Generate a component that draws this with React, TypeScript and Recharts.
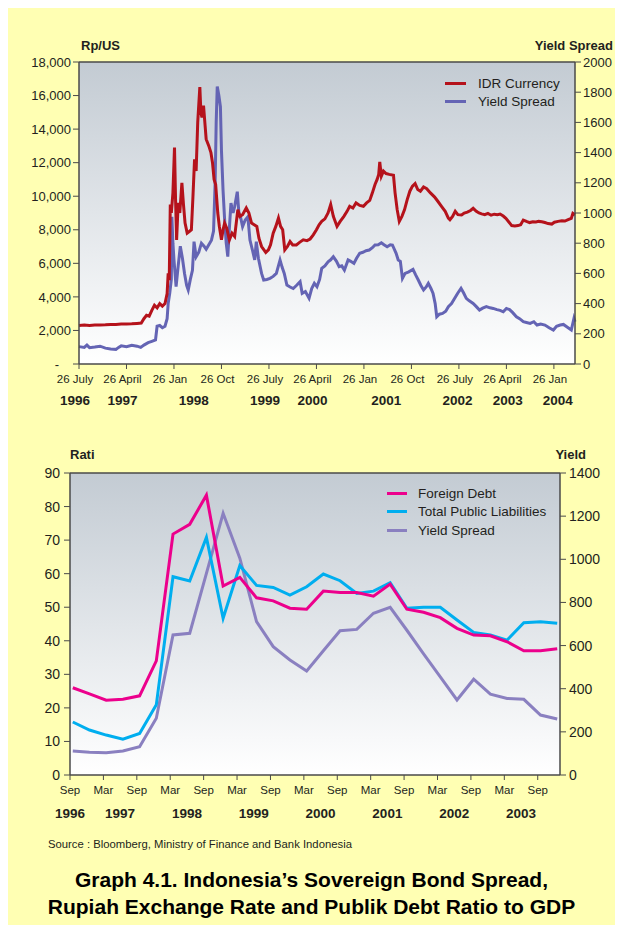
import React from 'react';
import { LineChart, Line, XAxis, YAxis, CartesianGrid, Legend, ReferenceLine } from 'recharts';

const FONT = '"Liberation Sans", Arial, Helvetica, sans-serif';
const INK = '#231f20';
const AXIS = '#4a4a4a';
const PAPER = '#ffffb3';

// ---- top chart: months since 26 July 1996 ----
const topTicks = [0, 9, 18, 27, 36, 45, 54, 63, 72, 81, 90];
const topTickLabels = ['26 July', '26 April', '26 Jan', '26 Oct', '26 July', '26 April', '26 Jan', '26 Oct', '26 July', '26 April', '26 Jan'];
const topYearPos = [0, 9, 22.5, 36, 45, 59, 72.5, 82, 91.5];
const topYears = ['1996', '1997', '1998', '1999', '2000', '2001', '2002', '2003', '2004'];

// [month, Rp per US$]
const idrCurrency: [number, number][] = [
  [0, 2300], [1, 2330], [2, 2300], [3, 2320], [4, 2330], [5, 2340], [6, 2360], [7, 2350], [8, 2380], [9, 2390],
  [10, 2400], [11, 2420], [11.8, 2440], [12.3, 2700], [12.8, 2900], [13.3, 2850], [13.8, 3200], [14.3, 3500],
  [14.8, 3350], [15.3, 3600], [15.8, 3450], [16.3, 3600], [16.7, 4200], [16.9, 5400], [17.1, 5000], [17.3, 9500],
  [17.5, 9000], [17.8, 10200], [18.1, 12900], [18.3, 9800], [18.5, 7400], [18.8, 9600], [19.1, 9000], [19.5, 10800],
  [19.8, 9500], [20.1, 8400], [20.5, 7800], [20.9, 7900], [21.3, 8000], [21.6, 10000], [21.9, 12200], [22.2, 11500],
  [22.5, 14400], [22.9, 16500], [23.1, 15000], [23.3, 14700], [23.6, 15400], [23.9, 14200], [24.1, 13400],
  [24.6, 13000], [25.0, 12600], [25.3, 12000], [25.6, 11000], [25.9, 10700], [26.3, 9000], [26.6, 8200],
  [27.0, 7400], [27.3, 8000], [27.6, 8400], [28.0, 8100], [28.5, 7400], [29.0, 7800], [29.5, 7600], [30.1, 9200],
  [30.5, 8800], [31.0, 8900], [31.7, 9300], [32.2, 9000], [32.7, 8400], [33.2, 8300], [33.7, 8200], [34.1, 7500],
  [34.6, 7000], [35.4, 6650], [35.9, 6800], [36.3, 7100], [36.8, 7800], [37.3, 8200], [37.8, 8700], [38.2, 8200],
  [38.6, 8000], [39.0, 6800], [39.5, 7000], [40.0, 7300], [40.5, 7100], [41.2, 7100], [41.8, 7250], [42.5, 7400],
  [43.2, 7350], [43.8, 7450], [44.4, 7700], [45.0, 8000], [45.5, 8300], [46.0, 8500], [46.6, 8650], [47.2, 9000],
  [47.7, 9500], [48.2, 8800], [48.9, 8200], [49.5, 8500], [50.2, 8800], [50.8, 9100], [51.3, 9400], [51.9, 9300],
  [52.5, 9600], [53.2, 9450], [53.9, 9400], [54.5, 9600], [55.1, 9750], [55.6, 10200], [56.1, 10700], [56.5, 11000],
  [56.8, 11300], [57.0, 12050], [57.3, 11200], [57.7, 11500], [58.2, 11350], [58.8, 11300], [59.6, 11250],
  [59.9, 10200], [60.3, 9200], [60.7, 8500], [61.2, 8800], [61.7, 9200], [62.2, 9800], [62.7, 10300], [63.2, 10600],
  [63.7, 10750], [64.2, 10400], [64.7, 10300], [65.3, 10550], [65.9, 10450], [66.6, 10200], [67.4, 9950],
  [68.0, 9700], [68.7, 9400], [69.4, 9100], [70.0, 8700], [70.3, 8600], [70.8, 8800], [71.3, 9100], [71.8, 8900],
  [72.5, 8880], [73.0, 9000], [73.6, 9050], [74.2, 9150], [74.7, 9280], [75.3, 9100], [75.8, 9000], [76.3, 8950],
  [76.9, 8900], [77.5, 8980], [78.1, 8870], [78.7, 8930], [79.3, 8900], [79.8, 8940], [80.4, 8820], [80.9, 8680],
  [81.5, 8450], [82.0, 8250], [82.6, 8230], [83.2, 8250], [83.7, 8300], [84.2, 8580], [84.8, 8500], [85.4, 8430],
  [86.0, 8480], [86.6, 8460], [87.1, 8500], [87.7, 8480], [88.3, 8430], [88.9, 8370], [89.6, 8340], [90.1, 8450],
  [90.8, 8500], [91.5, 8540], [92.1, 8520], [92.7, 8600], [93.3, 8680], [93.6, 8980], [94, 8900],
];

// [month, basis points]
const yieldSpreadDaily: [number, number][] = [
  [0, 115], [1, 110], [1.5, 125], [2, 108], [3, 112], [4, 118], [5, 105], [6, 100], [7, 97], [7.5, 110], [8, 120],
  [9, 115], [10, 124], [11, 118], [11.7, 110], [12.3, 125], [13.1, 141], [13.8, 150], [14.5, 159], [14.8, 250],
  [15.3, 255], [15.8, 240], [16.3, 250], [16.7, 300], [16.9, 400], [17.2, 470], [17.5, 560], [17.6, 975],
  [17.8, 800], [18.0, 690], [18.2, 600], [18.4, 512], [18.8, 650], [19.2, 780], [19.6, 700], [20.0, 600],
  [20.4, 520], [20.7, 490], [21.1, 560], [21.5, 620], [21.8, 810], [22.2, 710], [22.7, 740], [23.2, 800],
  [23.7, 780], [24.1, 760], [24.6, 790], [25.1, 820], [25.5, 880], [25.8, 1200], [26.0, 1600], [26.2, 1837],
  [26.5, 1780], [26.8, 1704], [27.0, 1413], [27.3, 1150], [27.6, 954], [27.9, 800], [28.2, 711], [28.5, 900],
  [28.8, 1065], [29.2, 1000], [29.5, 1043], [30.0, 1141], [30.3, 1000], [30.6, 975], [31.0, 910], [31.5, 954],
  [32.0, 975], [32.4, 821], [32.9, 750], [33.3, 689], [33.6, 810], [34.0, 700], [34.6, 600], [35.0, 556],
  [35.6, 560], [36.2, 567], [36.8, 580], [37.4, 600], [38.1, 689], [38.5, 640], [38.9, 600], [39.4, 523],
  [40.0, 510], [40.6, 500], [41.2, 520], [41.9, 545], [42.3, 468], [42.9, 480], [43.6, 435], [44.1, 500],
  [44.6, 534], [45.1, 512], [45.6, 560], [46.0, 633], [46.6, 650], [47.2, 677], [47.7, 690], [48.2, 711],
  [48.8, 680], [49.3, 644], [49.8, 650], [50.3, 622], [50.7, 660], [51.0, 689], [51.5, 680], [52.1, 666],
  [52.6, 700], [53.2, 733], [53.8, 740], [54.4, 750], [55.0, 755], [55.6, 770], [56.1, 788], [56.7, 790],
  [57.3, 803], [57.8, 790], [58.4, 777], [59.0, 790], [59.4, 788], [60.1, 733], [60.5, 689], [60.9, 680],
  [61.3, 567], [61.8, 600], [62.5, 610], [63.3, 627], [63.8, 590], [64.3, 556], [64.8, 520], [65.3, 490],
  [65.8, 510], [66.2, 534], [66.7, 500], [67.1, 468], [67.5, 400], [67.8, 313], [68.3, 330], [68.9, 335],
  [69.5, 350], [70.0, 380], [70.6, 400], [71.2, 435], [71.8, 470], [72.4, 501], [72.9, 470], [73.4, 435],
  [73.9, 420], [74.7, 401], [75.3, 380], [75.9, 357], [76.5, 370], [77.2, 380], [77.9, 372], [78.5, 368],
  [79.2, 360], [79.8, 355], [80.4, 346], [81.0, 368], [81.6, 360], [82.2, 340], [82.9, 313], [83.5, 300],
  [84.2, 280], [84.8, 275], [85.5, 269], [86.2, 280], [86.8, 258], [87.5, 265], [88.3, 258], [89.1, 240],
  [89.9, 225], [90.5, 250], [91.2, 258], [91.8, 262], [92.5, 245], [93.3, 225], [93.8, 302], [94, 280],
];

// ---- bottom chart: quarterly, months since Sep 1996 ----
const quarters = [
  'Sep-96', 'Dec-96', 'Mar-97', 'Jun-97', 'Sep-97', 'Dec-97', 'Mar-98', 'Jun-98', 'Sep-98', 'Dec-98',
  'Mar-99', 'Jun-99', 'Sep-99', 'Dec-99', 'Mar-00', 'Jun-00', 'Sep-00', 'Dec-00', 'Mar-01', 'Jun-01',
  'Sep-01', 'Dec-01', 'Mar-02', 'Jun-02', 'Sep-02', 'Dec-02', 'Mar-03', 'Jun-03', 'Sep-03', 'Dec-03',
];
const foreignDebt = [
  26, 24.2, 22.3, 22.6, 23.6, 34, 71.8, 74.7, 83.4, 56.3, 58.9, 52.8, 51.9, 49.7, 49.4,
  54.8, 54.4, 54.4, 53.3, 56.9, 49.4, 48.5, 46.9, 43.7, 41.7, 41.5, 39.7, 37.0, 37.0, 37.6,
];
const totalPublicLiabilities = [
  15.8, 13.4, 11.9, 10.7, 12.4, 20.9, 59.1, 57.8, 70.8, 46.7, 62.4, 56.5, 55.9, 53.6, 56.1,
  59.9, 57.9, 54.1, 54.8, 57.3, 49.7, 50.0, 50.0, 46.2, 42.5, 41.7, 40.2, 45.4, 45.7, 45.2,
];
const yieldSpreadQ = [
  111, 105, 103, 111, 131, 263, 649, 657, 935, 1213, 1005, 711, 595, 533, 482,
  576, 669, 675, 750, 777, 671, 562, 455, 348, 444, 375, 355, 351, 278, 260,
];
const botTicks = [0, 6, 12, 18, 24, 30, 36, 42, 48, 54, 60, 66, 72, 78, 84];
const botTickLabels = ['Sep', 'Mar', 'Sep', 'Mar', 'Sep', 'Mar', 'Sep', 'Mar', 'Sep', 'Mar', 'Sep', 'Mar', 'Sep', 'Mar', 'Sep'];
const botYearPos = [0, 9, 21, 33, 45, 57, 69, 81];
const botYears = ['1996', '1997', '1998', '1999', '2000', '2001', '2002', '2003'];

const idrData = idrCurrency.map(([m, v]) => ({ m, v }));
const ysData = yieldSpreadDaily.map(([m, v]) => ({ m, v }));
const quarterData = quarters.map((q, i) => ({
  q,
  m: 0.5 + 3 * i,
  fd: foreignDebt[i],
  tpl: totalPublicLiabilities[i],
  ys: yieldSpreadQ[i],
}));

const makeTick = (ticks: number[], labels: string[], size: number, bold: boolean, dx: number) => (props: any) => {
  const { x, y, payload } = props;
  const i = ticks.indexOf(payload.value);
  if (i < 0) return <g />;
  return (
    <text x={x + dx} y={y} dy="0.71em" textAnchor="middle" fontSize={size} fontWeight={bold ? 700 : 400}
      fill={INK} fontFamily={FONT}>
      {labels[i]}
    </text>
  );
};

const LeftTopTick = (props: any) => {
  const { x, y, payload } = props;
  const v = payload.value as number;
  return (
    <text x={v === 0 ? x - 12 : x} y={y} dy="0.355em" textAnchor="end" fontSize={13} fill={INK} fontFamily={FONT}>
      {v === 0 ? '-' : v.toLocaleString('en-US')}
    </text>
  );
};

type Item = { label: string; color: string };

const legendBox = (items: Item[], rowH: number, lineW: number, gap: number) => () => (
  <div style={{ fontFamily: FONT, fontSize: 13.5, color: INK }}>
    {items.map(it => (
      <div key={it.label} style={{ display: 'flex', alignItems: 'center', height: rowH, whiteSpace: 'nowrap' }}>
        <span style={{ display: 'inline-block', width: lineW, height: 3, background: it.color, marginRight: gap }} />
        <span>{it.label}</span>
      </div>
    ))}
  </div>
);

const topLegend: Item[] = [
  { label: 'IDR Currency', color: '#b5121b' },
  { label: 'Yield Spread', color: '#6464b4' },
];
const botLegend: Item[] = [
  { label: 'Foreign Debt', color: '#ec008c' },
  { label: 'Total Public Liabilities', color: '#00aeef' },
  { label: 'Yield Spread', color: '#8a80c0' },
];

const axisLine = { stroke: AXIS, strokeWidth: 1.5 };

function TopChart() {
  return (
    <LineChart width={607} height={430} margin={{ top: 54, right: 0, bottom: 28, left: 11 }}>
      <defs>
        <linearGradient id="topBg" x1="0" y1="0" x2="0" y2="1">
          <stop offset="0" stopColor="#c3cbd3" />
          <stop offset="1" stopColor="#ffffff" />
        </linearGradient>
      </defs>
      <CartesianGrid fill="url(#topBg)" horizontal={false} vertical={false} />
      <XAxis xAxisId="m" type="number" dataKey="m" domain={[0, 94]} ticks={topTicks} interval={0}
        height={22} tickSize={5} tickMargin={6} axisLine={axisLine} tickLine={{ stroke: AXIS }}
        tick={makeTick(topTicks, topTickLabels, 11.5, false, -4)} />
      <XAxis xAxisId="yr" type="number" dataKey="m" domain={[0, 94]} ticks={topYearPos} interval={0}
        height={24} tickSize={0} tickMargin={9} axisLine={false} tickLine={false}
        tick={makeTick(topYearPos, topYears, 13.5, true, -4)} />
      <YAxis yAxisId="left" domain={[0, 18000]} ticks={[0, 2000, 4000, 6000, 8000, 10000, 12000, 14000, 16000, 18000]}
        width={60} tickSize={6} tickMargin={2} axisLine={axisLine} tickLine={{ stroke: AXIS }} tick={<LeftTopTick />}
        interval={0} />
      <YAxis yAxisId="right" orientation="right" domain={[0, 2000]}
        ticks={[0, 200, 400, 600, 800, 1000, 1200, 1400, 1600, 1800, 2000]} width={40} tickSize={6} tickMargin={2}
        axisLine={axisLine} tickLine={{ stroke: AXIS }} interval={0}
        tick={{ fontSize: 13, fill: INK, fontFamily: FONT }} />
      <ReferenceLine xAxisId="m" yAxisId="left" y={18000} stroke={AXIS} strokeWidth={1.5} />
      <Line xAxisId="yr" yAxisId="left" data={idrData} dataKey="v" stroke="none" dot={false}
        isAnimationActive={false} legendType="none" />
      <Line xAxisId="m" yAxisId="right" data={ysData} dataKey="v" name="Yield Spread" stroke="#6464b4"
        strokeWidth={3} dot={false} isAnimationActive={false} />
      <Line xAxisId="m" yAxisId="left" data={idrData} dataKey="v" name="IDR Currency" stroke="#b5121b"
        strokeWidth={3} dot={false} isAnimationActive={false} />
      <Legend layout="vertical" align="center" verticalAlign="middle"
        wrapperStyle={{ left: 437, top: 66, width: 'auto', height: 'auto' }}
        content={legendBox(topLegend, 18, 21, 12)} />
    </LineChart>
  );
}

function BottomChart() {
  return (
    <LineChart width={607} height={400} data={quarterData} margin={{ top: 35, right: 5, bottom: 17, left: 10 }}>
      <defs>
        <linearGradient id="botBg" x1="0" y1="0" x2="0" y2="1">
          <stop offset="0" stopColor="#c3cbd3" />
          <stop offset="1" stopColor="#ffffff" />
        </linearGradient>
      </defs>
      <CartesianGrid fill="url(#botBg)" horizontal={false} vertical={false} />
      <XAxis xAxisId="m" type="number" dataKey="m" domain={[0, 88]} ticks={botTicks} interval={0}
        height={22} tickSize={5} tickMargin={6} axisLine={axisLine} tickLine={{ stroke: AXIS }}
        tick={makeTick(botTicks, botTickLabels, 11.5, false, 0)} />
      <XAxis xAxisId="yr" type="number" dataKey="m" domain={[0, 88]} ticks={botYearPos} interval={0}
        height={24} tickSize={0} tickMargin={11} axisLine={false} tickLine={false}
        tick={makeTick(botYearPos, botYears, 13.5, true, 0)} />
      <YAxis yAxisId="left" domain={[0, 90]} ticks={[0, 10, 20, 30, 40, 50, 60, 70, 80, 90]} width={52}
        tickSize={6} tickMargin={4} axisLine={axisLine} tickLine={{ stroke: AXIS }} interval={0}
        tick={{ fontSize: 14, fill: INK, fontFamily: FONT }} />
      <YAxis yAxisId="right" orientation="right" domain={[0, 1400]}
        ticks={[0, 200, 400, 600, 800, 1000, 1200, 1400]} width={50} tickSize={6} tickMargin={3}
        axisLine={axisLine} tickLine={{ stroke: AXIS }} interval={0}
        tick={{ fontSize: 14, fill: INK, fontFamily: FONT }} />
      <ReferenceLine xAxisId="m" yAxisId="left" y={90} stroke={AXIS} strokeWidth={1.5} />
      <Line xAxisId="yr" yAxisId="left" dataKey="fd" stroke="none" dot={false} isAnimationActive={false}
        legendType="none" />
      <Line xAxisId="m" yAxisId="right" dataKey="ys" name="Yield Spread" stroke="#8a80c0" strokeWidth={3}
        dot={false} isAnimationActive={false} />
      <Line xAxisId="m" yAxisId="left" dataKey="tpl" name="Total Public Liabilities" stroke="#00aeef"
        strokeWidth={3} dot={false} isAnimationActive={false} />
      <Line xAxisId="m" yAxisId="left" dataKey="fd" name="Foreign Debt" stroke="#ec008c" strokeWidth={3}
        dot={false} isAnimationActive={false} />
      <Legend layout="vertical" align="center" verticalAlign="middle"
        wrapperStyle={{ left: 379, top: 45.75, width: 'auto', height: 'auto' }}
        content={legendBox(botLegend, 18.5, 20, 11)} />
    </LineChart>
  );
}

const boldLabel: React.CSSProperties = {
  position: 'absolute', fontFamily: FONT, fontWeight: 700, fontSize: 13, lineHeight: '15px', color: INK,
};

export default function App() {
  return (
    <div style={{ position: 'relative', width: 607, height: 917, background: PAPER, fontFamily: FONT }}>
      <div style={{ ...boldLabel, left: 73, top: 30 }}>Rp/US</div>
      <div style={{ ...boldLabel, right: 2, top: 30 }}>Yield Spread</div>
      <div style={{ position: 'absolute', left: 0, top: 0 }}>
        <TopChart />
      </div>
      <div style={{ ...boldLabel, left: 62, top: 438.5 }}>Rati</div>
      <div style={{ ...boldLabel, right: 29, top: 438.5 }}>Yield</div>
      <div style={{ position: 'absolute', left: 0, top: 430 }}>
        <BottomChart />
      </div>
      <div style={{ position: 'absolute', left: 40, top: 829.5, fontFamily: FONT, fontSize: 11.3, lineHeight: '13px', color: INK }}>
        Source : Bloomberg, Ministry of Finance and Bank Indonesia
      </div>
      <div style={{
        position: 'absolute', left: 0, width: 607, top: 857.5, textAlign: 'center', fontFamily: FONT,
        fontWeight: 700, fontSize: 21, lineHeight: '27px', color: '#000',
      }}>
        Graph 4.1. Indonesia’s Sovereign Bond Spread,<br />
        Rupiah Exchange Rate and Publik Debt Ratio to GDP
      </div>
    </div>
  );
}
